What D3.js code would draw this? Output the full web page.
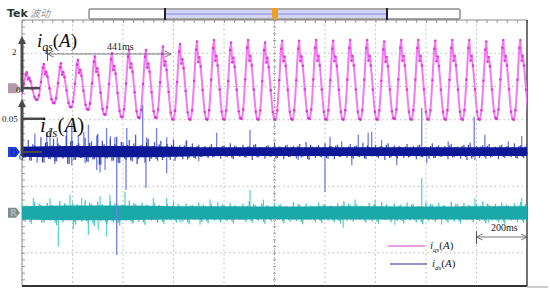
<!DOCTYPE html>
<html>
<head>
<meta charset="utf-8">
<script src="https://cdn.jsdelivr.net/npm/d3@7"></script>
<style>
  body { margin: 0; background: #fff; }
  svg { display: block; }
</style>
</head>
<body>
<svg id="chart"></svg>
<script>
// scope capture: i_qs (magenta), i_ds (navy), third channel (cyan)
const width = 550
const height = 297
const plot = { left: 22, right: 527, top: 20, bottom: 286 }

// time in ms, 200 ms per division, 10 divisions
const timeDomain = [0, 2000]

// i_qs, one entry per cycle (A)
const qPeriod = 67.4
const qStart = -7
const qPeak = [0.95, 1.45, 1.5, 1.7, 1.9, 2.1, 2.3, 2.3, 2.5, 2.65, 2.8, 2.9, 2.75, 2.9, 2.75, 2.85,
  2.85, 2.9, 2.85, 2.9, 2.9, 2.8, 2.9, 2.9, 2.85, 2.9, 2.9, 2.8, 2.9, 2.9, 2.9]
const qTrough = [-0.45, -0.7, -0.9, -1.15, -1.3, -1.6, -1.75, -1.8, -1.8, -1.9, -1.9, -1.9, -1.9, -1.85,
  -1.9, -1.9, -1.9, -1.85, -1.9, -1.9, -1.9, -1.9, -1.85, -1.9, -1.9, -1.9, -1.9, -1.9, -1.85, -1.9, -1.9, -1.9]
// shape of one cycle: [phase, fraction of trough->peak]
const qShape = [[0, 0], [0.1, 0.12], [0.22, 0.5], [0.33, 0.9], [0.39, 1.0], [0.46, 0.74],
  [0.53, 0.8], [0.6, 0.68], [0.72, 0.38], [0.84, 0.1], [0.93, 0.01]]

// i_ds (A): dense core, fuzz every 25 ms, separate spikes
const dBandT = [0, 200, 400, 600, 800, 1000, 1200, 1400, 1600, 1800, 2000]
const dCoreHi = [0.008, 0.009, 0.009, 0.008, 0.007, 0.007, 0.007, 0.007, 0.007, 0.007, 0.007]
const dCoreLo = [-0.007, -0.008, -0.008, -0.007, -0.006, -0.006, -0.006, -0.006, -0.006, -0.006, -0.006]
const fuzzStep = 25
const dFuzzUp = [
  0.012, 0.018, 0.010, 0.022, 0.015, 0.020, 0.011, 0.025, 0.017, 0.013,
  0.021, 0.016, 0.027, 0.012, 0.019, 0.023, 0.014, 0.018, 0.026, 0.011,
  0.020, 0.015, 0.017, 0.012, 0.019, 0.010, 0.016, 0.013, 0.011, 0.009,
  0.012, 0.007, 0.010, 0.013, 0.008, 0.011, 0.009, 0.012, 0.007, 0.010,
  0.014, 0.008, 0.011, 0.009, 0.012, 0.015, 0.008, 0.010, 0.013, 0.009,
  0.011, 0.007, 0.012, 0.010, 0.014, 0.008, 0.011, 0.009, 0.013, 0.010,
  0.008, 0.012, 0.009, 0.011, 0.007, 0.013, 0.010, 0.009, 0.012, 0.008,
  0.011, 0.014, 0.009, 0.010, 0.012, 0.008, 0.011, 0.009, 0.013, 0.010,
  0.012]
const dFuzzDown = [
  -0.009, -0.013, -0.008, -0.016, -0.011, -0.014, -0.010, -0.018, -0.012, -0.009,
  -0.015, -0.011, -0.019, -0.010, -0.013, -0.017, -0.012, -0.014, -0.011, -0.016,
  -0.010, -0.013, -0.009, -0.012, -0.008, -0.011, -0.009, -0.010, -0.008, -0.009,
  -0.007, -0.010, -0.008, -0.011, -0.007, -0.009, -0.012, -0.008, -0.010, -0.007,
  -0.009, -0.011, -0.008, -0.010, -0.007, -0.012, -0.009, -0.008, -0.010, -0.011,
  -0.007, -0.009, -0.010, -0.008, -0.011, -0.007, -0.009, -0.012, -0.008, -0.010,
  -0.009, -0.007, -0.011, -0.008, -0.010, -0.009, -0.007, -0.011, -0.008, -0.010,
  -0.012, -0.008, -0.009, -0.010, -0.007, -0.011, -0.009, -0.008, -0.010, -0.009,
  -0.008]
// i_ds spikes [t ms, A]
const dSpikes = [[51, 0.028], [98, 0.03], [111, 0.036], [140, 0.022], [177, 0.038], [197, 0.044], [223, 0.025],
  [245, 0.03], [263, 0.041], [296, 0.025], [335, 0.036], [350, 0.024], [368, 0.022], [415, 0.036], [478, 0.071],
  [494, 0.022], [533, 0.036], [573, 0.022], [652, 0.018], [771, 0.029], [903, 0.033], [1220, 0.023],
  [1266, 0.016], [1332, 0.026], [1371, 0.029], [1385, 0.03], [1424, 0.018], [1583, 0.066], [1688, 0.016],
  [1791, 0.053], [1833, 0.026], [1926, 0.016], [1979, 0.024],
  [60, -0.016], [130, -0.018], [197, -0.02], [250, -0.017], [296, -0.027], [309, -0.031], [329, -0.027],
  [375, -0.155], [412, -0.057], [491, -0.054], [573, -0.032], [700, -0.014], [1094, -0.012], [1200, -0.06],
  [1306, -0.02], [1484, -0.02], [1603, -0.017], [1794, -0.012]]

// third channel (div)
const cBandT = [0, 200, 400, 600, 800, 1000, 1200, 1400, 1600, 1800, 2000]
const cCoreHi = [0.2, 0.22, 0.22, 0.2, 0.2, 0.19, 0.2, 0.2, 0.19, 0.2, 0.2]
const cCoreLo = [-0.2, -0.22, -0.22, -0.2, -0.2, -0.19, -0.2, -0.2, -0.19, -0.2, -0.2]
const cFuzzUp = [
  0.28, 0.20, 0.34, 0.24, 0.30, 0.18, 0.36, 0.25, 0.32, 0.22,
  0.38, 0.27, 0.33, 0.21, 0.35, 0.29, 0.24, 0.37, 0.26, 0.31,
  0.22, 0.30, 0.19, 0.27, 0.33, 0.21, 0.28, 0.24, 0.31, 0.20,
  0.26, 0.32, 0.22, 0.29, 0.18, 0.27, 0.34, 0.23, 0.28, 0.21,
  0.30, 0.25, 0.19, 0.33, 0.24, 0.28, 0.20, 0.31, 0.26, 0.22,
  0.29, 0.35, 0.23, 0.27, 0.21, 0.30, 0.25, 0.32, 0.19, 0.28,
  0.24, 0.31, 0.27, 0.20, 0.33, 0.25, 0.29, 0.22, 0.34, 0.26,
  0.30, 0.21, 0.28, 0.35, 0.24, 0.27, 0.31, 0.22, 0.29, 0.33,
  0.26]
const cFuzzDown = [
  -0.26, -0.33, -0.21, -0.30, -0.24, -0.37, -0.28, -0.22, -0.35, -0.27,
  -0.31, -0.40, -0.25, -0.34, -0.29, -0.38, -0.23, -0.32, -0.27, -0.36,
  -0.24, -0.29, -0.33, -0.22, -0.30, -0.26, -0.34, -0.21, -0.28, -0.31,
  -0.23, -0.29, -0.25, -0.32, -0.20, -0.27, -0.30, -0.24, -0.33, -0.26,
  -0.22, -0.31, -0.27, -0.25, -0.34, -0.21, -0.28, -0.30, -0.23, -0.29,
  -0.32, -0.24, -0.27, -0.21, -0.30, -0.26, -0.33, -0.22, -0.28, -0.25,
  -0.31, -0.23, -0.29, -0.34, -0.24, -0.27, -0.20, -0.30, -0.26, -0.32,
  -0.22, -0.28, -0.25, -0.31, -0.23, -0.29, -0.33, -0.24, -0.27, -0.30,
  -0.25]
const cSpikes = [[45, 0.45], [111, 0.45], [190, 0.54], [236, 0.45], [309, 0.5], [348, 0.54], [408, 0.63],
  [520, 0.45], [573, 0.45], [745, 0.4], [903, 0.69], [956, 0.4], [1319, 0.4], [1398, 0.4], [1583, 1.05],
  [1794, 0.45], [1979, 0.45],
  [78, -0.3], [144, -1.02], [203, -0.51], [263, -0.66], [302, -0.51], [335, -0.72], [375, -0.6], [441, -0.3],
  [626, -0.3], [705, -0.36], [1272, -0.45], [1477, -0.36], [1662, -0.36], [1847, -0.3]]

// scales
const x = d3.scaleLinear().domain(timeDomain).range([plot.left, plot.right])
const gy = d3.scaleLinear().domain([-4, 4]).range([plot.bottom, plot.top])
const yQ = d3.scaleLinear().domain([0, 2]).range([gy(1.95), gy(2.95)])
const yD = d3.scaleLinear().domain([0, 0.05]).range([gy(0.03), gy(1.03)])
const yC = d3.scaleLinear().domain([0, 1]).range([gy(-1.8), gy(-0.8)])

const svg = d3.select('#chart').attr('width', width).attr('height', height)
  .style('font-family', '"Liberation Serif", serif')

svg.append('clipPath').attr('id', 'clip').append('rect')
  .attr('x', plot.left).attr('y', plot.top)
  .attr('width', plot.right - plot.left).attr('height', plot.bottom - plot.top)

// graticule
const grid = svg.append('g')
grid.selectAll('line.vg').data(d3.range(200, 2000, 200)).enter().append('line')
  .attr('x1', d => x(d)).attr('x2', d => x(d)).attr('y1', plot.top).attr('y2', plot.bottom)
  .attr('stroke', '#b8b8b8').attr('stroke-dasharray', '1.5,3')
grid.selectAll('line.hg').data(d3.range(-3, 4)).enter().append('line')
  .attr('x1', plot.left).attr('x2', plot.right).attr('y1', d => gy(d)).attr('y2', d => gy(d))
  .attr('stroke', '#b8b8b8').attr('stroke-dasharray', '1.5,3')

const minorT = d3.range(0, 2001, 40)
const minorY = d3.range(-4, 4.01, 0.2)
const tickAxis = (axis, tx, ty) => {
  const g = grid.append('g').attr('transform', 'translate(' + tx + ',' + ty + ')').call(axis)
  g.select('.domain').remove()
  g.selectAll('line').attr('stroke', '#999')
}
tickAxis(d3.axisBottom(x).tickValues(minorT).tickSize(3).tickFormat(''), 0, plot.top)
tickAxis(d3.axisRight(gy).tickValues(minorY).tickSize(3).tickFormat(''), plot.left, 0)
tickAxis(d3.axisBottom(x).tickValues(minorT).tickSize(3).tickFormat(''), 0, gy(0) - 1.5)
tickAxis(d3.axisRight(gy).tickValues(minorY).tickSize(3).tickFormat(''), x(1000) - 1.5, 0)
grid.append('line').attr('x1', x(1000)).attr('x2', x(1000)).attr('y1', plot.top).attr('y2', plot.bottom)
  .attr('stroke', '#aaa').attr('stroke-dasharray', '1,2')
grid.append('line').attr('x1', plot.left).attr('x2', plot.right).attr('y1', gy(0)).attr('y2', gy(0))
  .attr('stroke', '#aaa').attr('stroke-dasharray', '1,2')

// border
svg.append('line').attr('x1', plot.left).attr('x2', plot.right).attr('y1', plot.top).attr('y2', plot.top)
  .attr('stroke', '#888').attr('stroke-width', 1)
svg.append('line').attr('x1', plot.left).attr('x2', plot.left).attr('y1', plot.top).attr('y2', plot.bottom)
  .attr('stroke', '#888').attr('stroke-width', 1)
svg.append('line').attr('x1', plot.right).attr('x2', plot.right).attr('y1', plot.top).attr('y2', plot.bottom)
  .attr('stroke', '#444').attr('stroke-width', 1.5)
svg.append('line').attr('x1', plot.left).attr('x2', plot.right).attr('y1', plot.bottom).attr('y2', plot.bottom)
  .attr('stroke', '#333').attr('stroke-width', 2)
svg.append('line').attr('x1', plot.right).attr('x2', 548).attr('y1', plot.bottom + 1).attr('y2', plot.bottom + 1)
  .attr('stroke', '#ccc').attr('stroke-width', 2)

const traces = svg.append('g').attr('clip-path', 'url(#clip)')

// i_qs points
let qPts = []
qPeak.forEach((pk, k) => {
  qShape.forEach(([p, f]) => {
    const lo = p < 0.39 ? qTrough[k] : qTrough[k + 1]
    qPts.push({ t: qStart + (k + p) * qPeriod, v: lo + f * (pk - lo) })
  })
})
traces.append('path').datum(qPts)
  .attr('d', d3.line().x(d => x(d.t)).y(d => yQ(d.v)).curve(d3.curveMonotoneX))
  .attr('fill', 'none').attr('stroke', '#f27af2').attr('stroke-width', 2)
traces.selectAll('circle.q').data(qPts).enter().append('circle')
  .attr('cx', d => x(d.t)).attr('cy', d => yQ(d.v)).attr('r', 1.3)
  .attr('fill', '#e020d8').attr('opacity', 0.8)

// bands
const drawBand = (ts, hi, lo, yScale, color) => {
  const rows = ts.map((t, i) => ({ t: t, hi: hi[i], lo: lo[i] }))
  traces.append('path').datum(rows)
    .attr('d', d3.area().x(d => x(d.t)).y0(d => yScale(d.lo)).y1(d => yScale(d.hi)).curve(d3.curveMonotoneX))
    .attr('fill', color)
}
const drawSpikes = (list, yScale, color, w, op) => {
  traces.append('g').selectAll('line').data(list).enter().append('line')
    .attr('x1', d => x(d[0])).attr('x2', d => x(d[0]))
    .attr('y1', yScale(0)).attr('y2', d => yScale(d[1]))
    .attr('stroke', color).attr('stroke-width', w).attr('opacity', op)
}
const fuzz = (vals, offset) => vals.map((v, i) => [i * fuzzStep + offset, v])

drawSpikes(cSpikes, yC, '#5fd6d6', 1.3, 1)
drawSpikes(fuzz(cFuzzUp, 0), yC, '#3cc6c6', 1.4, 0.9)
drawSpikes(fuzz(cFuzzDown, 12), yC, '#3cc6c6', 1.4, 0.9)
drawSpikes(fuzz(cFuzzUp, 18).map(d => [d[0], d[1] * 0.8]), yC, '#2fb8b8', 1.2, 0.9)
drawSpikes(fuzz(cFuzzDown, 6).map(d => [d[0], d[1] * 0.8]), yC, '#2fb8b8', 1.2, 0.9)
drawBand(cBandT, cCoreHi, cCoreLo, yC, '#1aa8a8')

drawSpikes(dSpikes, yD, '#7080e8', 1.3, 1)
drawSpikes(fuzz(dFuzzUp, 0), yD, '#3344c4', 1.3, 0.85)
drawSpikes(fuzz(dFuzzDown, 12), yD, '#3344c4', 1.3, 0.85)
drawSpikes(fuzz(dFuzzDown, 18).map(d => [d[0], -d[1] * 0.9]), yD, '#2233b0', 1.2, 0.9)
drawSpikes(fuzz(dFuzzUp, 6).map(d => [d[0], -d[1] * 0.7]), yD, '#2233b0', 1.2, 0.9)
drawBand(dBandT, dCoreHi, dCoreLo, yD, '#0c1896')

// top status bar
svg.append('text').attr('x', 7).attr('y', 17).text('Tek')
  .style('font-family', '"DejaVu Sans", sans-serif').style('font-weight', 'bold')
  .style('font-size', '11px').attr('fill', '#333')
svg.append('text').attr('x', 30).attr('y', 17).text('波动')
  .style('font-family', '"Noto Sans CJK SC", sans-serif').style('font-style', 'italic')
  .style('font-size', '10px').attr('fill', '#999')
svg.append('rect').attr('x', 89).attr('y', 9).attr('width', 371).attr('height', 10).attr('rx', 1)
  .attr('fill', '#fff').attr('stroke', '#555')
svg.append('rect').attr('x', 165).attr('y', 10).attr('width', 222).attr('height', 8).attr('fill', '#d4d4f6')
svg.append('line').attr('x1', 165).attr('x2', 387).attr('y1', 14).attr('y2', 14).attr('stroke', '#8888e8')
svg.selectAll('line.br').data([165, 387]).enter().append('line')
  .attr('x1', d => d).attr('x2', d => d).attr('y1', 8).attr('y2', 20).attr('stroke', '#222').attr('stroke-width', 2)
svg.append('path').attr('d', 'M272,8 L278,8 L278,17 L275,21 L272,17 Z').attr('fill', '#f0a020')

// channel markers
const marker = (y, fill, label, lc) => {
  svg.append('path').attr('d', `M8,${y - 5} L16,${y - 5} L20,${y} L16,${y + 5} L8,${y + 5} Z`).attr('fill', fill)
  svg.append('text').attr('x', 10).attr('y', y + 3.5).text(label).attr('fill', lc)
    .style('font-family', '"DejaVu Sans", sans-serif').style('font-size', '9px').style('font-weight', 'bold')
}
marker(yQ(0), '#b49aaa', '', '#fff')
marker(yD(0), '#2040d8', 'D', '#1030c0')
marker(yC(0), '#7d8d8b', 'R', '#a8b8b6')

// axis arrows
const ann = svg.append('g')
const arrowUp = (x0, y0, y1) => {
  ann.append('line').attr('x1', x0).attr('x2', x0).attr('y1', y0).attr('y2', y1 + 6)
    .attr('stroke', '#4a4a4a').attr('stroke-width', 3)
  ann.append('path').attr('d', `M${x0 - 4},${y1 + 8} L${x0},${y1} L${x0 + 4},${y1 + 8} Z`).attr('fill', '#4a4a4a')
}
arrowUp(plot.left, yQ(0) + 4, 36)
arrowUp(plot.left, yD(0) + 4, 99)
ann.append('line').attr('x1', plot.left).attr('x2', 40).attr('y1', yQ(0)).attr('y2', yQ(0))
  .attr('stroke', '#4a4a4a').attr('stroke-width', 2.5)
ann.append('line').attr('x1', plot.left).attr('x2', 45).attr('y1', yD(0.05)).attr('y2', yD(0.05))
  .attr('stroke', '#4a4a4a').attr('stroke-width', 2.5)
ann.append('line').attr('x1', plot.left).attr('x2', 42).attr('y1', yD(0)).attr('y2', yD(0))
  .attr('stroke', '#4a4a4a').attr('stroke-width', 2)

const smallText = (xx, yy, s) => ann.append('text').attr('x', xx).attr('y', yy).text(s)
  .style('font-size', '9px').attr('fill', '#222')
smallText(12, 55, '2')
smallText(16, 93, '0')
smallText(2, 122, '0.05')
smallText(19, 160, '0')

// big channel labels
const chanLabel = (xx, yy, sub, size) => {
  const t = ann.append('text').attr('x', xx).attr('y', yy).style('font-size', size + 'px').attr('fill', '#111')
  t.append('tspan').text('i').style('font-style', 'italic')
  t.append('tspan').text(sub).style('font-style', 'italic').style('font-size', (size * 0.62) + 'px')
    .attr('dy', size * 0.22)
  t.append('tspan').text('(').attr('dy', -size * 0.22)
  t.append('tspan').text('A').style('font-style', 'italic')
  t.append('tspan').text(')')
}
chanLabel(37, 47, 'qs', 19)
chanLabel(40, 132, 'ds', 21)

// time markers
const span = (x0, x1, yy, label, lx, ly) => {
  ann.append('line').attr('x1', x0).attr('x2', x0).attr('y1', yy - 6).attr('y2', yy + 7)
    .attr('stroke', '#555').attr('stroke-width', 1)
  ann.append('line').attr('x1', x0).attr('x2', x1).attr('y1', yy).attr('y2', yy)
    .attr('stroke', '#555').attr('stroke-width', 0.8)
  ann.append('path').attr('d', `M${x0 + 6},${yy - 3} L${x0},${yy} L${x0 + 6},${yy + 3}`)
    .attr('fill', 'none').attr('stroke', '#555').attr('stroke-width', 0.8)
  ann.append('path').attr('d', `M${x1 - 6},${yy - 3} L${x1},${yy} L${x1 - 6},${yy + 3}`)
    .attr('fill', 'none').attr('stroke', '#555').attr('stroke-width', 0.8)
  ann.append('text').attr('x', lx).attr('y', ly).text(label).style('font-size', '10px').attr('fill', '#222')
}
span(x(101), x(590), 54, '441ms', 107, 50)
span(x(1800), x(2000), 237, '200ms', 491, 231)

// legend
const legend = [
  { sub: 'qs', color: '#d040c0', x0: 388, y: 246 },
  { sub: 'ds', color: '#303090', x0: 390, y: 264 }
]
legend.forEach(l => {
  ann.append('line').attr('x1', l.x0).attr('x2', l.x0 + 37).attr('y1', l.y).attr('y2', l.y)
    .attr('stroke', l.color).attr('stroke-width', 1.2)
  const t = ann.append('text').attr('x', l.x0 + 42).attr('y', l.y + 3).style('font-size', '11px').attr('fill', '#222')
  t.append('tspan').text('i').style('font-style', 'italic')
  t.append('tspan').text(l.sub).style('font-style', 'italic').style('font-size', '7px').attr('dy', 2.5)
  t.append('tspan').text('(').attr('dy', -2.5)
  t.append('tspan').text('A').style('font-style', 'italic')
  t.append('tspan').text(')')
})
</script>
</body>
</html>
